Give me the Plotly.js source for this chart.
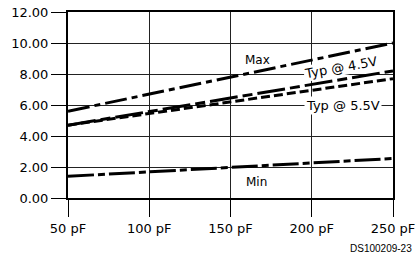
<!DOCTYPE html>
<html><head><meta charset="utf-8">
<script src="https://cdn.plot.ly/plotly-3.0.1.min.js"></script>
<style>html,body{margin:0;padding:0;background:#fff}#c{width:416px;height:254px}</style>
</head><body><div id="c"></div>
<script>
const capX = [50, 100, 150, 200, 250];
const xTickText = ['50 pF', '100 pF', '150 pF', '200 pF', '250 pF'];
const maxVals = [5.6, 6.7, 7.8, 8.9, 10.0];
const typ45Vals = [4.7, 5.575, 6.45, 7.325, 8.2];
const typ55Vals = [4.7, 5.45, 6.2, 6.95, 7.7];
const minVals = [1.4, 1.69, 1.98, 2.26, 2.55];
const yTicks = [0, 2, 4, 6, 8, 10, 12];

const F = 'DejaVu Sans, sans-serif';
const line = (y, dash) => ({x: capX, y: y, mode: 'lines', type: 'scatter',
  line: {color: '#000', width: 3, dash: dash}, hoverinfo: 'skip', showlegend: false});

const data = [
  line(maxVals, '22px,5px,6px,5px'),
  line(typ45Vals, '28px,5px,10px,5px'),
  line(typ55Vals, '9px,4px'),
  line(minVals, '26px,4px,7px,4px')
];

const layout = {
  width: 416, height: 254,
  margin: {l: 68, r: 23, t: 12, b: 56},
  paper_bgcolor: '#fff', plot_bgcolor: '#fff',
  showlegend: false,
  font: {family: F, size: 13, color: '#000'},
  xaxis: {range: [50, 250], tickvals: capX, ticktext: xTickText,
    showgrid: true, gridcolor: '#222', gridwidth: 1,
    showline: true, linecolor: '#000', linewidth: 2, mirror: true,
    ticks: 'outside', ticklen: 17, tickwidth: 1, tickcolor: '#000',
    zeroline: false, fixedrange: true, tickfont: {family: F, size: 13}},
  yaxis: {range: [0, 12], tickvals: yTicks, tickformat: '.2f',
    showgrid: true, gridcolor: '#222', gridwidth: 1,
    showline: true, linecolor: '#000', linewidth: 2, mirror: true,
    ticks: 'outside', ticklen: 15, tickwidth: 1, tickcolor: '#000',
    zeroline: false, fixedrange: true, tickfont: {family: F, size: 13}},
  annotations: [
    {x: 166.5, y: 8.9, xref: 'x', yref: 'y', text: 'Max', showarrow: false,
     font: {family: F, size: 12}},
    {x: 218, y: 8.4, xref: 'x', yref: 'y', text: 'Typ @ 4.5V', showarrow: false,
     textangle: -10, font: {family: F, size: 13}, bgcolor: '#fff', borderpad: 0},
    {x: 219, y: 6, xref: 'x', yref: 'y', text: 'Typ @ 5.5V', showarrow: false,
     font: {family: F, size: 13}, bgcolor: '#fff', borderpad: 1},
    {x: 166, y: 1.06, xref: 'x', yref: 'y', text: 'Min', showarrow: false,
     font: {family: F, size: 12}},
    {x: 1, y: 0, xref: 'paper', yref: 'paper', text: 'DS100209-23', showarrow: false,
     xanchor: 'right', yanchor: 'middle', font: {family: 'Liberation Sans, Arial, sans-serif', size: 10}}
  ]
};
// place DS label at the lower right corner, below the x tick labels
layout.annotations[4].x = (414 - 68) / (416 - 68 - 23);
layout.annotations[4].y = -(248 - 198) / (254 - 12 - 56);

Plotly.newPlot('c', data, layout, {staticPlot: true, displayModeBar: false});
</script></body></html>
